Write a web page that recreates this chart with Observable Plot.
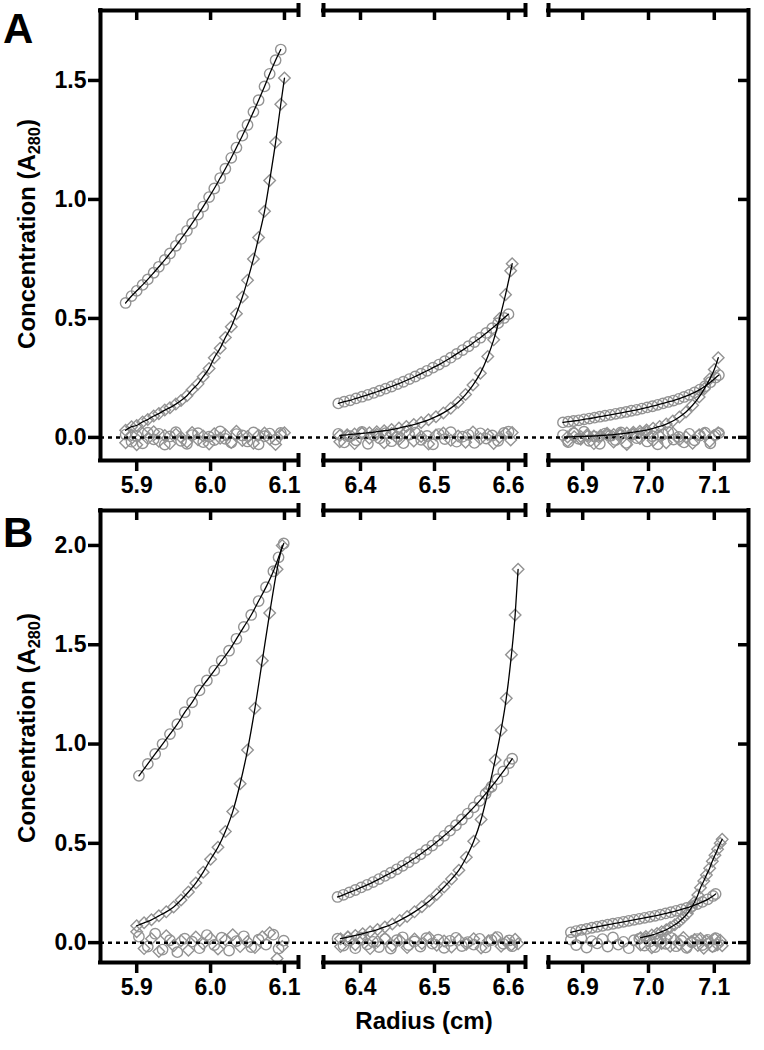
<!DOCTYPE html>
<html><head><meta charset="utf-8">
<script src="https://cdn.jsdelivr.net/npm/d3@7"></script>
<script src="https://cdn.jsdelivr.net/npm/@observablehq/plot@0.6"></script>
<style>
body{margin:0;background:#fff;}
#wrap{position:relative;width:764px;height:1050px;font-family:"Liberation Sans",Arial,sans-serif;overflow:hidden;}
#wrap svg{position:absolute;left:0;}
.lbl{position:absolute;font-weight:bold;white-space:nowrap;color:#000;}
.panel{font-size:42px;line-height:42px;}
.ytitle{font-size:24px;line-height:24px;transform:translate(-50%,-50%) rotate(-90deg);}
.xtitle{font-size:24px;line-height:24px;transform:translate(-50%,-50%);}
sub{font-size:0.68em;vertical-align:-0.28em;line-height:0;}
</style></head>
<body>
<div id="wrap">
  <div class="lbl panel" style="left:3px;top:8px">A</div>
  <div class="lbl panel" style="left:3px;top:512px">B</div>
  <div class="lbl ytitle" style="left:27px;top:234px">Concentration (A<sub>280</sub>)</div>
  <div class="lbl ytitle" style="left:27px;top:728px">Concentration (A<sub>280</sub>)</div>
  <div class="lbl xtitle" style="left:424px;top:1021px">Radius (cm)</div>
</div>
<script>
// ---------- axis definitions ----------
const xTicks = [5.9, 6.0, 6.1, 6.4, 6.5, 6.6, 6.9, 7.0, 7.1];
const segStart = [5.851, 6.35, 6.848];
const segEnd = [6.119, 6.623, 7.152];
const yTicksA = [0, 0.5, 1.0, 1.5];
const yTicksB = [0, 0.5, 1.0, 1.5, 2.0];
const yDomainA = [-0.097, 1.794];
const yDomainB = [-0.10, 2.176];

// ---------- Panel A data: [radius, A280] ----------
const A1c = [[5.885,0.565],[5.893,0.594],[5.900,0.616],[5.908,0.641],[5.915,0.664],[5.923,0.692],[5.930,0.717],[5.938,0.746],[5.945,0.773],[5.953,0.805],[5.960,0.834],[5.968,0.868],[5.975,0.899],[5.983,0.936],[5.990,0.970],[5.998,1.010],[6.005,1.046],[6.013,1.090],[6.020,1.129],[6.028,1.175],[6.035,1.218],[6.043,1.268],[6.050,1.313],[6.058,1.368],[6.065,1.417],[6.073,1.475],[6.080,1.528],[6.088,1.585],[6.095,1.630]];
const A1d = [[5.885,0.03],[5.893,0.045],[5.900,0.05],[5.908,0.065],[5.915,0.075],[5.923,0.09],[5.930,0.10],[5.938,0.115],[5.945,0.125],[5.953,0.14],[5.960,0.155],[5.968,0.175],[5.975,0.20],[5.983,0.225],[5.990,0.255],[5.998,0.29],[6.005,0.335],[6.013,0.375],[6.020,0.42],[6.028,0.465],[6.035,0.52],[6.043,0.59],[6.050,0.66],[6.058,0.75],[6.065,0.84],[6.073,0.95],[6.080,1.08],[6.088,1.24],[6.095,1.40],[6.100,1.51]];
const A2c = [[6.370,0.143],[6.378,0.150],[6.386,0.156],[6.394,0.164],[6.402,0.171],[6.410,0.179],[6.418,0.187],[6.426,0.196],[6.434,0.205],[6.442,0.214],[6.450,0.224],[6.458,0.234],[6.466,0.245],[6.474,0.256],[6.482,0.268],[6.490,0.280],[6.498,0.293],[6.506,0.306],[6.514,0.320],[6.522,0.335],[6.530,0.351],[6.538,0.367],[6.546,0.383],[6.554,0.401],[6.562,0.419],[6.570,0.439],[6.578,0.459],[6.586,0.480],[6.594,0.502],[6.600,0.518]];
const A2d = [[6.372,0.008],[6.382,0.011],[6.392,0.014],[6.402,0.017],[6.412,0.020],[6.422,0.024],[6.432,0.028],[6.442,0.033],[6.452,0.039],[6.462,0.046],[6.472,0.054],[6.482,0.063],[6.492,0.074],[6.502,0.087],[6.512,0.103],[6.522,0.123],[6.532,0.148],[6.542,0.18],[6.552,0.22],[6.562,0.27],[6.572,0.34],[6.580,0.41],[6.588,0.50],[6.596,0.60],[6.603,0.70],[6.605,0.73]];
const A3c = [[6.870,0.063],[6.878,0.066],[6.886,0.069],[6.894,0.072],[6.902,0.076],[6.910,0.079],[6.918,0.083],[6.926,0.087],[6.934,0.091],[6.942,0.095],[6.950,0.099],[6.958,0.103],[6.966,0.107],[6.974,0.112],[6.982,0.116],[6.990,0.121],[6.998,0.126],[7.006,0.131],[7.014,0.137],[7.022,0.143],[7.030,0.149],[7.038,0.155],[7.046,0.162],[7.054,0.170],[7.062,0.179],[7.070,0.189],[7.078,0.201],[7.086,0.215],[7.094,0.232],[7.102,0.251],[7.107,0.262]];
const A3d = [[6.877,0.002],[6.887,0.003],[6.897,0.004],[6.907,0.005],[6.917,0.006],[6.927,0.008],[6.937,0.010],[6.947,0.012],[6.957,0.015],[6.967,0.018],[6.977,0.022],[6.987,0.026],[6.997,0.031],[7.007,0.038],[7.017,0.046],[7.027,0.056],[7.037,0.069],[7.047,0.086],[7.057,0.107],[7.067,0.135],[7.077,0.170],[7.085,0.205],[7.093,0.245],[7.100,0.285],[7.106,0.335]];
// residuals (same radii as the series above)
const A1cRes = [0.012,-0.018,0.006,-0.025,0.020,-0.008,0.015,-0.030,0.004,0.022,-0.014,-0.027,0.010,0.018,-0.020,0.003,-0.011,0.025,-0.006,-0.022,0.014,0.008,-0.017,0.021,-0.029,0.005,0.016,-0.009,0.019];
const A1dRes = [-0.022,0.010,-0.031,0.017,-0.005,0.024,-0.016,0.008,-0.026,0.013,0.001,-0.019,0.021,-0.010,0.006,-0.028,0.015,-0.003,0.011,-0.021,0.026,-0.013,0.004,-0.024,0.009,0.018,-0.007,-0.030,0.012,0.020];
const A2cRes = [0.015,-0.021,0.005,-0.012,0.023,-0.027,0.009,-0.004,0.018,-0.016,0.002,-0.024,0.012,0.020,-0.010,0.006,-0.029,0.014,-0.007,0.022,-0.018,0.003,0.011,-0.023,0.017,-0.005,0.008,-0.014,0.019,0.024];
const A2dRes = [-0.018,0.008,-0.026,0.020,-0.003,0.013,-0.022,0.016,-0.009,0.025,-0.015,0.004,-0.028,0.010,0.018,-0.012,0.006,-0.020,0.023,-0.006,0.012,-0.025,0.001,0.017,-0.011,0.021];
const A3cRes = [0.010,-0.020,0.018,-0.006,0.024,-0.014,0.003,-0.027,0.016,0.007,-0.011,0.021,-0.023,0.012,-0.003,0.019,-0.017,0.005,-0.029,0.013,0.022,-0.009,0.002,-0.021,0.015,-0.012,0.008,0.020,-0.025,0.011,0.018];
const A3dRes = [-0.015,0.021,-0.008,0.012,-0.026,0.004,0.017,-0.019,0.009,-0.030,0.014,-0.004,0.023,-0.013,0.006,-0.022,0.019,-0.010,0.002,-0.024,0.011,0.016,-0.017,0.008,0.020];

// ---------- Panel B data ----------
const B1c = [[5.903,0.84],[5.915,0.90],[5.925,0.95],[5.935,1.00],[5.945,1.05],[5.955,1.10],[5.965,1.16],[5.975,1.21],[5.985,1.27],[5.995,1.32],[6.005,1.37],[6.015,1.42],[6.025,1.47],[6.035,1.53],[6.045,1.59],[6.055,1.65],[6.065,1.72],[6.075,1.79],[6.085,1.87],[6.092,1.94],[6.099,2.01]];
const B1d = [[5.900,0.085],[5.910,0.10],[5.920,0.115],[5.930,0.135],[5.940,0.155],[5.950,0.18],[5.960,0.215],[5.970,0.255],[5.980,0.30],[5.990,0.355],[6.000,0.42],[6.010,0.48],[6.020,0.56],[6.030,0.66],[6.040,0.80],[6.050,0.97],[6.060,1.18],[6.070,1.42],[6.080,1.66],[6.090,1.88],[6.097,2.00]];
const B2c = [[6.369,0.230],[6.377,0.241],[6.385,0.253],[6.393,0.265],[6.401,0.278],[6.409,0.291],[6.417,0.305],[6.425,0.320],[6.433,0.336],[6.441,0.352],[6.449,0.369],[6.457,0.387],[6.465,0.405],[6.473,0.425],[6.481,0.445],[6.489,0.467],[6.497,0.489],[6.505,0.513],[6.513,0.538],[6.521,0.564],[6.529,0.591],[6.537,0.620],[6.545,0.650],[6.553,0.681],[6.561,0.714],[6.569,0.749],[6.577,0.785],[6.585,0.823],[6.593,0.862],[6.601,0.904],[6.605,0.926]];
const B2d = [[6.373,0.02],[6.383,0.028],[6.393,0.036],[6.403,0.045],[6.413,0.055],[6.423,0.066],[6.433,0.079],[6.443,0.094],[6.453,0.112],[6.463,0.132],[6.473,0.155],[6.483,0.181],[6.493,0.21],[6.503,0.243],[6.513,0.28],[6.523,0.32],[6.533,0.365],[6.543,0.43],[6.553,0.51],[6.563,0.62],[6.573,0.77],[6.582,0.92],[6.590,1.07],[6.597,1.23],[6.604,1.45],[6.609,1.65],[6.613,1.88]];
const B3c = [[6.882,0.052],[6.890,0.058],[6.898,0.064],[6.906,0.069],[6.914,0.075],[6.922,0.080],[6.930,0.085],[6.938,0.090],[6.946,0.095],[6.954,0.100],[6.962,0.105],[6.970,0.110],[6.978,0.115],[6.986,0.120],[6.994,0.125],[7.002,0.130],[7.010,0.135],[7.018,0.141],[7.026,0.147],[7.034,0.153],[7.042,0.160],[7.050,0.167],[7.058,0.175],[7.066,0.184],[7.074,0.194],[7.082,0.205],[7.090,0.218],[7.098,0.235],[7.102,0.245]];
const B3d = [[6.988,0.025],[6.996,0.031],[7.005,0.038],[7.013,0.046],[7.020,0.055],[7.027,0.065],[7.033,0.076],[7.040,0.09],[7.047,0.107],[7.053,0.125],[7.059,0.146],[7.065,0.175],[7.070,0.205],[7.075,0.24],[7.079,0.277],[7.084,0.31],[7.088,0.34],[7.093,0.375],[7.097,0.41],[7.101,0.44],[7.105,0.47],[7.109,0.50],[7.112,0.52]];
const B1cRes = [0.030,-0.020,0.045,-0.035,0.012,-0.048,0.020,0.005,-0.028,0.038,-0.012,0.025,-0.040,0.008,0.032,-0.022,0.015,-0.010,0.040,-0.030,0.010];
const B1dRes = [0.055,-0.030,0.020,-0.045,0.035,-0.015,0.010,-0.038,0.028,-0.005,0.022,-0.032,0.015,0.040,-0.020,0.006,-0.025,0.030,0.050,-0.080,-0.020];
const B2cRes = [0.020,-0.015,0.010,-0.028,0.025,-0.008,0.004,-0.022,0.018,-0.030,0.012,0.027,-0.012,0.006,-0.020,0.022,-0.005,0.015,-0.026,0.009,0.024,-0.017,0.003,-0.010,0.019,-0.024,0.013,0.028,-0.006,0.011,-0.018];
const B2dRes = [-0.020,0.028,-0.010,0.016,-0.030,0.006,0.022,-0.016,0.012,-0.025,0.018,-0.004,0.026,-0.013,0.008,-0.022,0.014,-0.008,0.020,-0.027,0.010,0.024,-0.018,0.004,-0.012,0.017,-0.006];
const B3cRes = [0.015,-0.012,0.022,-0.025,0.008,-0.004,0.018,-0.020,0.026,-0.010,0.004,-0.028,0.012,0.020,-0.015,0.006,-0.022,0.016,-0.006,0.024,-0.018,0.010,-0.026,0.002,0.018,-0.012,0.014,-0.020,0.022];
const B3dRes = [-0.012,0.020,-0.026,0.010,-0.004,0.024,-0.018,0.014,-0.008,0.026,-0.022,0.006,0.016,-0.014,0.021,-0.028,0.008,0.002,-0.020,0.018,-0.010,0.012,-0.016];

// ---------- drawing ----------
const xRangePx = [100, 298, 323, 525, 548, 748];

function makePanel(segments, yDomain, yTicks, marginBottom) {
  const [yLo, yHi] = yDomain;
  const xDomain = [segStart[0], segEnd[0], segStart[1], segEnd[1], segStart[2], segEnd[2]];
  const pts = (arr, series) => arr.map(([r, v]) => ({r, v, series}));
  const resid = (arr, res) => arr.map(([r], i) => ({r, v: res[i]})).filter(d => d.v !== undefined);
  const upper = [], lower = [], resC = [], resD = [];
  segments.forEach((s, k) => {
    upper.push(...pts(s.c, "c" + k));
    lower.push(...pts(s.d, "d" + k));
    resC.push(...resid(s.c, s.cRes));
    resD.push(...resid(s.d, s.dRes));
  });
  const gray = "#939393";
  const mk = {x: "r", y: "v", r: 5.2, stroke: gray, strokeWidth: 1.4};
  const ax = {stroke: "black", strokeWidth: 4, strokeLinecap: "square"};
  const tk = {stroke: "black", strokeWidth: 3.5};
  const bold = {fontSize: 23, fontWeight: "bold", fill: "black"};
  const inner = [segEnd[0], segStart[1], segEnd[1], segStart[2]];
  const segIdx = [0, 1, 2];
  return Plot.plot({
    width: 764, height: 500,
    marginTop: 10, marginBottom, marginLeft: 100, marginRight: 16,
    x: {type: "linear", domain: xDomain, range: xRangePx, axis: null},
    y: {domain: yDomain, axis: null},
    style: {fontFamily: "'Liberation Sans', Arial, sans-serif", background: "transparent", overflow: "visible"},
    marks: [
      Plot.dot(resC, {...mk, symbol: "circle"}),
      Plot.dot(resD, {...mk, symbol: "diamond2"}),
      Plot.ruleY([0], {stroke: "black", strokeWidth: 2.5, strokeDasharray: "4,4"}),
      Plot.dot(upper, {...mk, symbol: "circle"}),
      Plot.dot(lower, {...mk, symbol: "diamond2"}),
      Plot.line(upper, {x: "r", y: "v", z: "series", stroke: "black", strokeWidth: 1.3, curve: "monotone-x"}),
      Plot.line(lower, {x: "r", y: "v", z: "series", stroke: "black", strokeWidth: 1.3, curve: "monotone-x"}),
      // frame lines
      Plot.ruleX([xDomain[0], xDomain[5]], {x: d => d, y1: yLo, y2: yHi, ...ax}),
      Plot.ruleY(segIdx, {x1: i => segStart[i], x2: i => segEnd[i], y: yHi, ...ax}),
      Plot.ruleY(segIdx, {x1: i => segStart[i], x2: i => segEnd[i], y: yLo, ...ax}),
      Plot.ruleX(inner, {x: d => d, y1: yHi, y2: yHi, insetTop: -7, insetBottom: -7, stroke: "black", strokeWidth: 4}),
      Plot.ruleX(inner, {x: d => d, y1: yLo, y2: yLo, insetTop: -7, insetBottom: -7, stroke: "black", strokeWidth: 4}),
      // ticks
      Plot.ruleX(xTicks, {x: d => d, y1: yHi, y2: yHi, insetBottom: -10, ...tk}),
      Plot.ruleX(xTicks, {x: d => d, y1: yLo, y2: yLo, insetBottom: -11, ...tk}),
      Plot.ruleY(yTicks, {y: d => d, x1: xDomain[0], x2: xDomain[0], insetLeft: -12, ...tk}),
      Plot.ruleY(yTicks, {y: d => d, x1: xDomain[5], x2: xDomain[5], insetLeft: -10, ...tk}),
      // tick labels
      Plot.text(xTicks, {x: d => d, y: yLo, dy: 25, text: d => d.toFixed(1), ...bold}),
      Plot.text(yTicks, {x: xDomain[0], y: d => d, dx: -14, textAnchor: "end", text: d => d.toFixed(1), ...bold})
    ]
  });
}

const segsA = [
  {c: A1c, d: A1d, cRes: A1cRes, dRes: A1dRes},
  {c: A2c, d: A2d, cRes: A2cRes, dRes: A2dRes},
  {c: A3c, d: A3d, cRes: A3cRes, dRes: A3dRes}
];
const segsB = [
  {c: B1c, d: B1d, cRes: B1cRes, dRes: B1dRes},
  {c: B2c, d: B2d, cRes: B2cRes, dRes: B2dRes},
  {c: B3c, d: B3d, cRes: B3cRes, dRes: B3dRes}
];

const wrap = document.getElementById("wrap");
const svgA = makePanel(segsA, yDomainA, yTicksA, 40);
svgA.style.top = "0px";
const svgB = makePanel(segsB, yDomainB, yTicksB, 38);
svgB.style.top = "500px";
wrap.insertBefore(svgB, wrap.firstChild);
wrap.insertBefore(svgA, wrap.firstChild);
</script>
</body></html>
